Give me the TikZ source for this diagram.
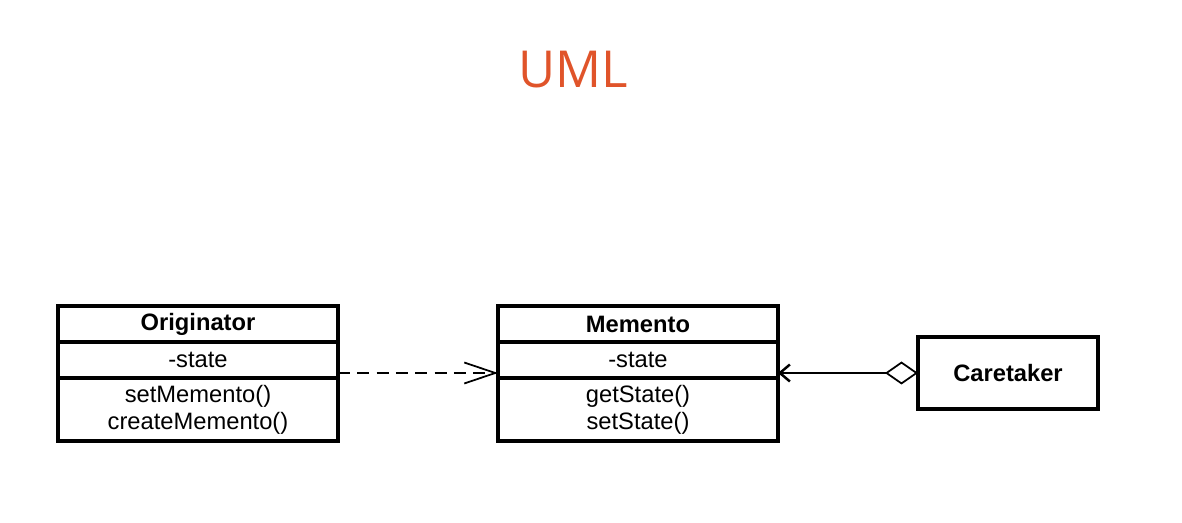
\documentclass[tikz,border=0pt]{standalone}
\usepackage{fontspec}
\setmainfont{Liberation Sans}
\newfontfamily\titlefont{Open Sans}
\usetikzlibrary{arrows.meta}
\definecolor{umlorange}{RGB}{224,84,42}
\tikzset{
  compart/.style={draw,line width=2.2pt,inner sep=0pt,outer sep=0pt,minimum width=5.6cm,align=center,font=\fontsize{13.5}{15.3}\selectfont},
  dep/.style={line width=1pt,dash pattern=on 6.8pt off 4.2pt,-{Straight Barb[length=0.62cm,width=0.42cm,line width=1pt]}},
  agg/.style={line width=1pt,{Straight Barb[length=0.2cm,width=0.34cm,line width=1.4pt]}-{Diamond[open,length=0.66cm,width=0.46cm,fill=white,line width=1pt]}}
}
\begin{document}
\begin{tikzpicture}
\useasboundingbox(0,0) rectangle (23.64,-10.46);
\node[text=umlorange,font=\titlefont\fontsize{29}{34}\selectfont] (title) at (11.46,-1.4) {UML};
\node[compart,minimum height=0.72cm] (orgname) at (3.96,-6.48) {\textbf{Originator}};
\node[compart,minimum height=0.72cm] (orgattr) at (3.96,-7.2) {-state};
\node[compart,minimum height=1.26cm] (orgops) at (3.96,-8.19) {setMemento()\\createMemento()};
\node[compart,minimum height=0.72cm] (memname) at (12.76,-6.48) {\textbf{Memento}};
\node[compart,minimum height=0.72cm] (memattr) at (12.76,-7.2) {-state};
\node[compart,minimum height=1.26cm] (memops) at (12.76,-8.19) {getState()\\setState()};
\node[compart,minimum width=3.6cm,minimum height=1.44cm] (care) at (20.16,-7.46) {\textbf{Caretaker}};
\draw[dep](orgattr.east|-care.west)--(memattr.west|-care.west);
\draw[agg](memattr.east|-care.west)--(care.west);
\end{tikzpicture}
\end{document}
